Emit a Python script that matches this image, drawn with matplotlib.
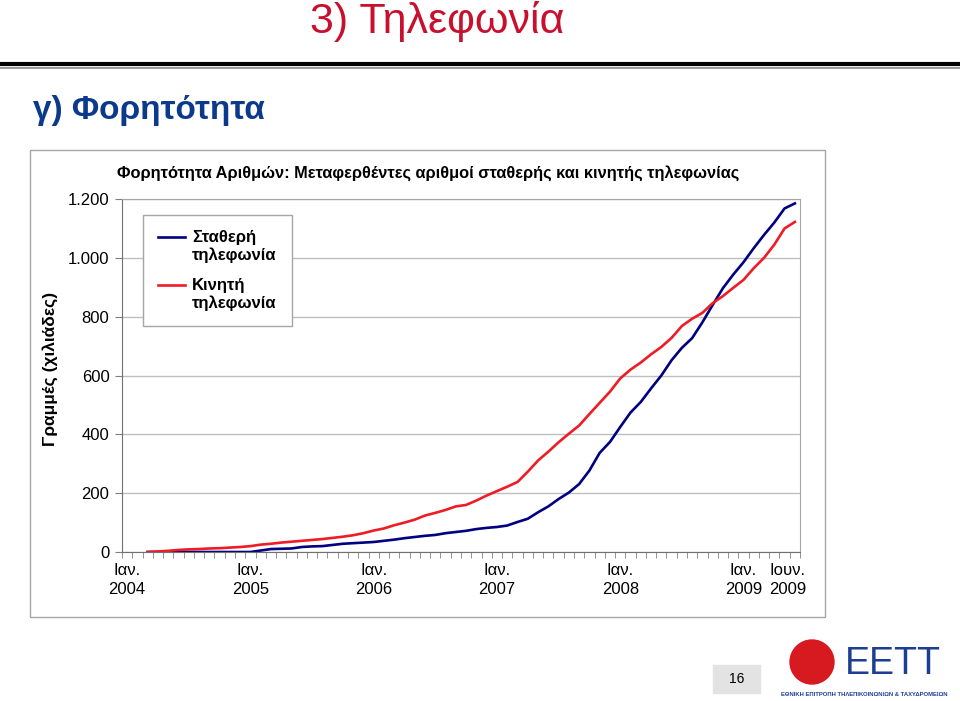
import numpy as np
import matplotlib
matplotlib.use("Agg")
import matplotlib.pyplot as plt
from matplotlib.patches import Rectangle, Ellipse
from matplotlib.lines import Line2D
from matplotlib.ticker import FuncFormatter
from matplotlib.legend_handler import HandlerLine2D
from matplotlib.transforms import ScaledTranslation

plt.rcParams['font.family'] = ['Liberation Sans', 'DejaVu Sans']

# monthly categories, Jan 2004 .. Jun 2009
months = [f"{y}-{m:02d}" for y in range(2004, 2010) for m in range(1, 13)][:66]
first_month = "2004-03"

# ported numbers (thousands), Mar 2004 .. Jun 2009
fixed = [0, 0, 0, 0, 0, 0, 0, 0, 0, 0, 0,
         5, 10, 11, 12, 17, 19, 20, 24, 28, 30, 32,
         34, 38, 42, 47, 51, 55, 58, 64, 68, 72, 78, 82,
         85, 90, 102, 113, 135, 155, 180, 202, 231, 277, 337, 374,
         425, 474, 510, 556, 600, 652, 694, 727, 781, 840, 897, 943,
         985, 1033, 1078, 1120, 1168, 1185]
mobile = [0, 2, 4, 7, 9, 10, 12, 13, 15, 17, 20,
          25, 28, 32, 35, 38, 41, 44, 48, 52, 57, 64,
          73, 80, 91, 100, 110, 124, 133, 143, 155, 160, 175, 192,
          207, 222, 238, 273, 311, 341, 373, 402, 430, 469, 507, 545,
          590, 620, 644, 672, 697, 728, 768, 793, 813, 846, 870, 898,
          925, 965, 1000, 1045, 1100, 1122]

tick_months = ["2004-01", "2005-01", "2006-01", "2007-01", "2008-01", "2009-01", "2009-06"]
tick_labels = ["Ιαν.\n2004", "Ιαν.\n2005", "Ιαν.\n2006", "Ιαν.\n2007",
               "Ιαν.\n2008", "Ιαν.\n2009", "Ιουν.\n2009"]
y_ticks = [0, 200, 400, 600, 800, 1000, 1200]
series_names = ["Σταθερή\nτηλεφωνία", "Κινητή\nτηλεφωνία"]

W, H = 960, 701


def fx(px):
    return px / W


def fy(py):
    return 1 - py / H


class HandlerFirstLine(HandlerLine2D):
    # put the legend line level with the first text line, like Excel does
    def create_artists(self, legend, orig_handle, xdescent, ydescent,
                       width, height, fontsize, trans):
        artists = super().create_artists(legend, orig_handle, xdescent, ydescent,
                                         width, height, fontsize, trans)
        for a in artists:
            a.set_ydata(np.asarray(a.get_ydata()) + 0.55 * fontsize)
        return artists


fig = plt.figure(figsize=(9.6, 7.01), dpi=100)

# slide header
fig.text(fx(437), fy(22), "3) Τηλεφωνία", color="#c8102e", fontsize=31,
         ha="center", va="center")
fig.add_artist(Line2D([0, 1], [fy(63.5)] * 2, color="black", lw=3, transform=fig.transFigure))
fig.add_artist(Line2D([0, 1], [fy(67.5)] * 2, color="#9a9a9a", lw=1.5, transform=fig.transFigure))
fig.text(fx(33), fy(110), "γ) Φορητότητα", color="#0b3a8c", fontsize=24,
         fontweight="bold", ha="left", va="center")

# chart frame
fig.add_artist(Rectangle((fx(30), fy(617)), (825 - 30) / W, (617 - 150) / H,
                         fill=False, edgecolor="#a6a6a6", lw=1, transform=fig.transFigure))
fig.text(fx(428), fy(173),
         "Φορητότητα Αριθμών: Μεταφερθέντες αριθμοί σταθερής και κινητής τηλεφωνίας",
         fontsize=11.8, fontweight="bold", ha="center", va="center")
fig.text(fx(50), fy(369), "Γραμμές (χιλιάδες)", rotation=90, fontsize=12.5,
         fontweight="bold", ha="center", va="center")

ax = fig.add_axes([fx(122), fy(552), (800 - 122) / W, (552 - 199) / H])
start = months.index(first_month)
x = np.arange(start, start + len(fixed))
ax.plot(x, fixed, color="#000080", lw=1.9, label=series_names[0])
ax.plot(x, mobile, color="#ee1c25", lw=1.9, label=series_names[1])

ax.set_xlim(-0.5, len(months) - 0.5)
ax.set_ylim(0, 1200)
ax.set_xticks([months.index(m) for m in tick_months])
ax.set_xticklabels(tick_labels, fontsize=12, linespacing=1.35)
ax.set_xticks(np.arange(-0.5, len(months), 1), minor=True)
ax.tick_params(axis="x", which="major", length=0, pad=8)
ax.tick_params(axis="x", which="minor", length=4, color="#808080")
# last label sits a little to the left in the original
last = ax.get_xticklabels()[-1]
last.set_transform(last.get_transform() + ScaledTranslation(-7 / 100, 0, fig.dpi_scale_trans))
ax.set_yticks(y_ticks)
ax.yaxis.set_major_formatter(FuncFormatter(lambda v, p: f"{v:,.0f}".replace(",", ".")))
ax.tick_params(axis="y", length=5, color="#808080", labelsize=12, pad=4)
ax.grid(axis="y", color="#bfbfbf", lw=1)
ax.set_axisbelow(True)
for s in ["top", "right"]:
    ax.spines[s].set_color("#a6a6a6")
for s in ["left", "bottom"]:
    ax.spines[s].set_color("#707070")

leg = ax.legend(loc="upper left", bbox_to_anchor=(0.031, 0.955), borderaxespad=0,
                prop={"weight": "bold", "size": 12}, handlelength=1.6,
                handletextpad=0.45, labelspacing=0.9, fancybox=False, framealpha=1,
                edgecolor="#a6a6a6", borderpad=0.9,
                handler_map={Line2D: HandlerFirstLine()})
leg.get_frame().set_linewidth(1)

# footer: page number and logo
fig.add_artist(Rectangle((fx(713), fy(693)), 47 / W, 28 / H, color="#e3e3e3",
                         transform=fig.transFigure))
fig.text(fx(736.5), fy(679), "16", fontsize=10, ha="center", va="center")
fig.add_artist(Ellipse((fx(812), fy(662)), 44 / W, 44 / H, color="#d71920",
                       transform=fig.transFigure))
fig.text(fx(845), fy(664), "ΕΕΤΤ", color="#1c3f94", fontsize=27, ha="left", va="center")
fig.text(fx(864), fy(694), "ΕΘΝΙΚΗ ΕΠΙΤΡΟΠΗ ΤΗΛΕΠΙΚΟΙΝΩΝΙΩΝ & ΤΑΧΥΔΡΟΜΕΙΩΝ",
         color="#1c3f94", fontsize=4.2, fontweight="bold", ha="center", va="center")

fig.savefig("out.png", dpi=100)
